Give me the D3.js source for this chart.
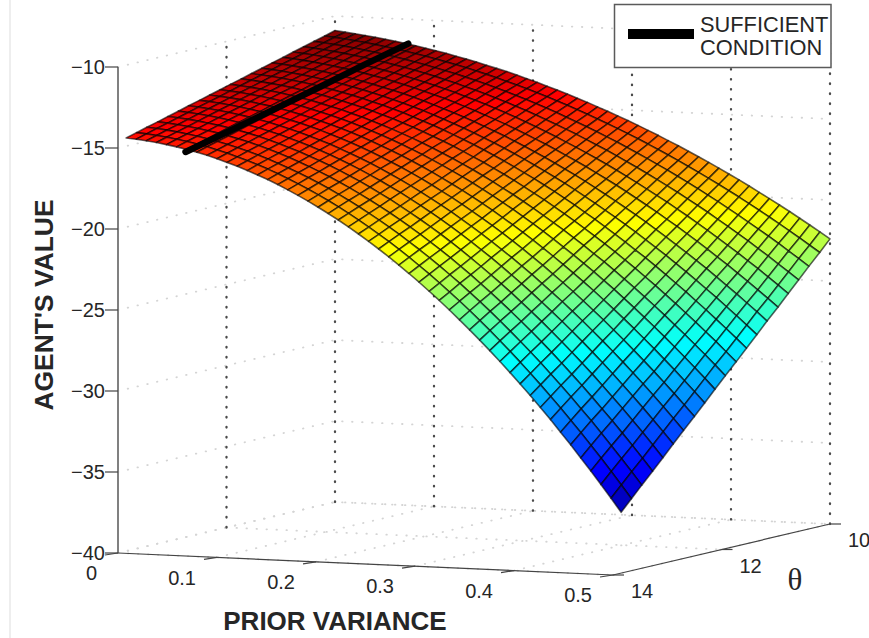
<!DOCTYPE html>
<html><head><meta charset="utf-8">
<style>html,body{margin:0;padding:0;background:#fff;overflow:hidden}svg{display:block}text{font-family:"Liberation Sans",Arial,sans-serif;fill:#262626}</style>
<script src="https://cdn.jsdelivr.net/npm/d3@7/dist/d3.min.js"></script>
</head><body><svg id="c" width="869" height="638"></svg>
<script>
const varianceTicks = [0, 0.1, 0.2, 0.3, 0.4, 0.5];
const varianceLabels = ["0", "0.1", "0.2", "0.3", "0.4", "0.5"];
const thetaTicks = [10, 12, 14];
const valueTicks = [-40, -35, -30, -25, -20, -15, -10];
const valueLabelsShown = ["−40", "−35", "−30", "−25", "−20", "−15", "−10"];
const thetaValues = [10,10.19,10.39,10.58,10.77,10.96,11.16,11.35,11.54,11.73,11.93,12.12,12.31,12.5,12.7,12.89,13.08,13.27,13.47,13.66,13.85];
const varianceValues = [0,0.0102,0.0204,0.0306,0.0408,0.051,0.0612,0.0714,0.0816,0.0918,0.102,0.1122,0.1224,0.1327,0.1429,0.1531,0.1633,0.1735,0.1837,0.1939,0.2041,0.2143,0.2245,0.2347,0.2449,0.2551,0.2653,0.2755,0.2857,0.2959,0.3061,0.3163,0.3265,0.3367,0.3469,0.3571,0.3673,0.3776,0.3878,0.398,0.4082,0.4184,0.4286,0.4388,0.449,0.4592,0.4694,0.4796,0.4898,0.5];
// magnitude of the agent's value: one line per prior variance, one entry per theta
const valueMagnitude = [
[10.90,11.08,11.26,11.44,11.62,11.80,11.98,12.16,12.34,12.52,12.70,12.88,13.06,13.24,13.42,13.60,13.78,13.96,14.14,14.32,14.50],
[10.97,11.14,11.32,11.50,11.68,11.86,12.04,12.22,12.40,12.58,12.76,12.94,13.12,13.29,13.47,13.65,13.83,14.01,14.19,14.37,14.55],
[11.04,11.22,11.40,11.57,11.75,11.93,12.11,12.29,12.47,12.65,12.83,13.00,13.18,13.36,13.54,13.72,13.90,14.08,14.26,14.44,14.62],
[11.12,11.30,11.47,11.65,11.83,12.01,12.19,12.37,12.55,12.73,12.91,13.09,13.26,13.44,13.62,13.80,13.98,14.16,14.34,14.52,14.70],
[11.20,11.38,11.56,11.74,11.92,12.10,12.28,12.46,12.64,12.82,13.00,13.18,13.36,13.54,13.72,13.90,14.08,14.26,14.44,14.62,14.80],
[11.30,11.48,11.66,11.84,12.02,12.20,12.38,12.56,12.74,12.92,13.10,13.28,13.47,13.65,13.83,14.01,14.19,14.37,14.55,14.73,14.91],
[11.40,11.58,11.76,11.94,12.12,12.31,12.49,12.67,12.85,13.04,13.22,13.40,13.58,13.77,13.95,14.13,14.31,14.49,14.68,14.86,15.04],
[11.50,11.69,11.87,12.06,12.24,12.42,12.61,12.79,12.98,13.16,13.35,13.53,13.71,13.90,14.08,14.27,14.45,14.64,14.82,15.00,15.19],
[11.62,11.80,11.99,12.18,12.36,12.55,12.74,12.92,13.11,13.30,13.48,13.67,13.86,14.04,14.23,14.42,14.60,14.79,14.98,15.17,15.35],
[11.74,11.93,12.12,12.31,12.50,12.69,12.88,13.07,13.26,13.45,13.64,13.83,14.02,14.21,14.40,14.59,14.77,14.96,15.15,15.34,15.53],
[11.87,12.06,12.25,12.45,12.64,12.83,13.03,13.22,13.41,13.61,13.80,13.99,14.18,14.38,14.57,14.76,14.96,15.15,15.34,15.54,15.73],
[12.00,12.20,12.40,12.59,12.79,12.99,13.19,13.38,13.58,13.78,13.97,14.17,14.37,14.56,14.76,14.96,15.16,15.35,15.55,15.75,15.94],
[12.15,12.35,12.55,12.75,12.95,13.15,13.35,13.56,13.76,13.96,14.16,14.36,14.56,14.76,14.97,15.17,15.37,15.57,15.77,15.97,16.18],
[12.29,12.50,12.71,12.91,13.12,13.33,13.53,13.74,13.94,14.15,14.36,14.56,14.77,14.98,15.18,15.39,15.60,15.80,16.01,16.21,16.42],
[12.45,12.66,12.87,13.09,13.30,13.51,13.72,13.93,14.14,14.36,14.57,14.78,14.99,15.20,15.41,15.62,15.84,16.05,16.26,16.47,16.68],
[12.62,12.83,13.05,13.27,13.49,13.70,13.92,14.14,14.35,14.57,14.79,15.01,15.22,15.44,15.66,15.88,16.09,16.31,16.53,16.75,16.96],
[12.79,13.01,13.23,13.46,13.68,13.90,14.13,14.35,14.58,14.80,15.02,15.25,15.47,15.69,15.92,16.14,16.36,16.59,16.81,17.04,17.26],
[12.96,13.19,13.42,13.66,13.89,14.12,14.35,14.58,14.81,15.04,15.27,15.50,15.73,15.96,16.19,16.42,16.65,16.88,17.11,17.34,17.57],
[13.15,13.39,13.62,13.86,14.10,14.34,14.57,14.81,15.05,15.29,15.52,15.76,16.00,16.24,16.47,16.71,16.95,17.19,17.42,17.66,17.90],
[13.34,13.59,13.83,14.08,14.32,14.57,14.81,15.06,15.30,15.55,15.79,16.04,16.28,16.53,16.77,17.02,17.26,17.51,17.75,18.00,18.25],
[13.54,13.79,14.05,14.30,14.55,14.81,15.06,15.31,15.57,15.82,16.07,16.33,16.58,16.83,17.09,17.34,17.59,17.85,18.10,18.35,18.61],
[13.75,14.01,14.27,14.53,14.79,15.06,15.32,15.58,15.84,16.10,16.37,16.63,16.89,17.15,17.41,17.68,17.94,18.20,18.46,18.72,18.98],
[13.96,14.23,14.50,14.77,15.04,15.31,15.59,15.86,16.13,16.40,16.67,16.94,17.21,17.48,17.75,18.02,18.29,18.57,18.84,19.11,19.38],
[14.18,14.46,14.74,15.02,15.30,15.58,15.86,16.14,16.42,16.71,16.99,17.27,17.55,17.83,18.11,18.39,18.67,18.95,19.23,19.51,19.79],
[14.41,14.70,14.99,15.28,15.57,15.86,16.15,16.44,16.73,17.02,17.31,17.60,17.90,18.19,18.48,18.77,19.06,19.35,19.64,19.93,20.22],
[14.64,14.94,15.25,15.55,15.85,16.15,16.45,16.75,17.05,17.35,17.65,17.95,18.25,18.55,18.86,19.16,19.46,19.76,20.06,20.36,20.66],
[14.89,15.20,15.51,15.82,16.13,16.44,16.76,17.07,17.38,17.69,18.00,18.31,18.63,18.94,19.25,19.56,19.87,20.19,20.50,20.81,21.12],
[15.13,15.46,15.78,16.10,16.43,16.75,17.07,17.40,17.72,18.04,18.37,18.69,19.01,19.34,19.66,19.98,20.30,20.63,20.95,21.27,21.60],
[15.39,15.73,16.06,16.40,16.73,17.07,17.40,17.74,18.07,18.41,18.74,19.08,19.41,19.75,20.08,20.42,20.75,21.09,21.42,21.76,22.09],
[15.65,16.00,16.35,16.70,17.04,17.39,17.74,18.09,18.43,18.78,19.13,19.47,19.82,20.17,20.52,20.86,21.21,21.56,21.91,22.25,22.60],
[15.92,16.28,16.64,17.00,17.36,17.72,18.08,18.44,18.80,19.16,19.53,19.89,20.25,20.61,20.97,21.33,21.69,22.05,22.41,22.77,23.13],
[16.20,16.57,16.95,17.32,17.69,18.07,18.44,18.81,19.19,19.56,19.94,20.31,20.68,21.06,21.43,21.80,22.18,22.55,22.92,23.30,23.67],
[16.48,16.87,17.26,17.65,18.03,18.42,18.81,19.20,19.58,19.97,20.36,20.74,21.13,21.52,21.91,22.29,22.68,23.07,23.46,23.84,24.23],
[16.78,17.18,17.58,17.98,18.38,18.78,19.19,19.59,19.99,20.39,20.79,21.19,21.59,22.00,22.40,22.80,23.20,23.60,24.00,24.40,24.81],
[17.07,17.49,17.91,18.32,18.74,19.15,19.57,19.99,20.40,20.82,21.24,21.65,22.07,22.48,22.90,23.32,23.73,24.15,24.56,24.98,25.40],
[17.38,17.81,18.24,18.67,19.11,19.54,19.97,20.40,20.83,21.26,21.69,22.12,22.56,22.99,23.42,23.85,24.28,24.71,25.14,25.57,26.01],
[17.69,18.14,18.59,19.03,19.48,19.93,20.37,20.82,21.27,21.71,22.16,22.61,23.06,23.50,23.95,24.40,24.84,25.29,25.74,26.18,26.63],
[18.01,18.48,18.94,19.40,19.86,20.33,20.79,21.25,21.72,22.18,22.64,23.10,23.57,24.03,24.49,24.96,25.42,25.88,26.35,26.81,27.27],
[18.34,18.82,19.30,19.78,20.26,20.74,21.22,21.70,22.18,22.65,23.13,23.61,24.09,24.57,25.05,25.53,26.01,26.49,26.97,27.45,27.93],
[18.67,19.17,19.67,20.16,20.66,21.15,21.65,22.15,22.64,23.14,23.64,24.13,24.63,25.13,25.62,26.12,26.62,27.11,27.61,28.11,28.60],
[19.01,19.53,20.04,20.55,21.07,21.58,22.10,22.61,23.12,23.64,24.15,24.67,25.18,25.69,26.21,26.72,27.24,27.75,28.27,28.78,29.29],
[19.36,19.89,20.43,20.96,21.49,22.02,22.55,23.09,23.62,24.15,24.68,25.21,25.74,26.28,26.81,27.34,27.87,28.41,28.94,29.47,30.00],
[19.72,20.27,20.82,21.37,21.92,22.47,23.02,23.57,24.12,24.67,25.22,25.77,26.32,26.87,27.42,27.97,28.52,29.07,29.62,30.17,30.72],
[20.08,20.65,21.22,21.79,22.36,22.93,23.49,24.06,24.63,25.20,25.77,26.34,26.91,27.48,28.05,28.62,29.19,29.76,30.33,30.90,31.47],
[20.45,21.04,21.63,22.21,22.80,23.39,23.98,24.57,25.16,25.75,26.34,26.92,27.51,28.10,28.69,29.28,29.87,30.46,31.04,31.63,32.22],
[20.82,21.43,22.04,22.65,23.26,23.87,24.48,25.08,25.69,26.30,26.91,27.52,28.13,28.74,29.34,29.95,30.56,31.17,31.78,32.39,33.00],
[21.21,21.84,22.46,23.09,23.72,24.35,24.98,25.61,26.24,26.87,27.50,28.12,28.75,29.38,30.01,30.64,31.27,31.90,32.53,33.15,33.78],
[21.60,22.25,22.90,23.55,24.20,24.85,25.50,26.14,26.79,27.44,28.09,28.74,29.39,30.04,30.69,31.34,31.99,32.64,33.29,33.94,34.59],
[22.00,22.67,23.34,24.01,24.68,25.35,26.02,26.69,27.36,28.03,28.70,29.37,30.05,30.72,31.39,32.06,32.73,33.40,34.07,34.74,35.41],
[22.40,23.09,23.79,24.48,25.17,25.86,26.56,27.25,27.94,28.63,29.33,30.02,30.71,31.40,32.10,32.79,33.48,34.17,34.87,35.56,36.25]
];
const conditionTheta = [10, 10.77, 11.54, 12.31, 13.08, 13.85];
const conditionVariance = [0.074, 0.072, 0.07, 0.067, 0.064, 0.06];
const conditionValue = [-11.5, -12.2, -12.95, -13.7, -14.45, -15.2];
const legendLines = ["SUFFICIENT", "CONDITION"];
const jetStops = [0, 0.125, 0.375, 0.625, 0.875, 1];
const jetColors = ["#000080", "#0000ff", "#00ffff", "#ffff00", "#ff0000", "#800000"];

const svg = d3.select("#c");
const varX = d3.scaleLinear().domain([0, 0.5]).range([0, 495]);
const varY = d3.scaleLinear().domain([0, 0.5]).range([0, 22]);
const thX = d3.scaleLinear().domain([14, 10]).range([118, 335]);
const thY = d3.scaleLinear().domain([14, 10]).range([553, 502]);
const valH = d3.scaleLinear().domain([-40, -10]).range([0, -486]);
const project = (v, t, z) => [thX(t) + varX(v), thY(t) + varY(v) + valH(z)];
const colorT = d3.scaleLinear().domain([-37.2, -10.9]).range([0, 1]);
const jet = d3.scaleLinear().domain(jetStops).range(jetColors).clamp(true);
const line = d3.line();

svg.append("line").attr("x1", 10).attr("x2", 10).attr("y1", 0).attr("y2", 638).attr("stroke", "#e8e8e8").attr("stroke-width", 1.5);

const grid = svg.append("g").attr("fill", "none").attr("stroke-linecap", "round");
const light = (pts) => grid.append("path").attr("d", line(pts)).attr("stroke", "#d4d4d4").attr("stroke-width", 1.8).attr("stroke-dasharray", "0.5 9.5");
const dark = (pts) => grid.append("path").attr("d", line(pts)).attr("stroke", "#4a4a4a").attr("stroke-width", 2.3).attr("stroke-dasharray", "0.5 9.5");
const zMin = -40, zMax = -10;
valueTicks.forEach(z => light([project(0, 14, z), project(0, 10, z), project(0.5, 10, z)]));
varianceTicks.forEach(v => light([project(v, 14, zMin), project(v, 10, zMin)]));
thetaTicks.forEach(t => light([project(0, t, zMin), project(0.5, t, zMin)]));
thetaTicks.filter(t => t < 14).forEach(t => dark([project(0, t, zMin), project(0, t, zMax)]));
varianceTicks.filter(v => v > 0).forEach(v => dark([project(v, 10, zMin), project(v, 10, zMax)]));

// axes
const axes = svg.append("g").attr("fill", "none");
axes.append("path").attr("d", line([project(0, 14, zMin), project(0, 14, zMax)])).attr("stroke", "#808080").attr("stroke-width", 2);
axes.append("path").attr("d", line([project(0, 14, zMin), project(0.5, 14, zMin), project(0.5, 10, zMin)])).attr("stroke", "#444").attr("stroke-width", 1.2);
axes.selectAll(".zt").data(valueTicks).join("path").attr("class", "zt")
  .attr("d", z => { const p = project(0, 14, z); return line([[p[0] - 13, p[1]], p]); }).attr("stroke", "#444").attr("stroke-width", 1.2);
axes.selectAll(".xt").data(varianceTicks).join("path").attr("class", "xt")
  .attr("d", v => { const p = project(v, 14, zMin); return line([[p[0] - 13, p[1] + 2], p]); }).attr("stroke", "#444").attr("stroke-width", 1.2);
axes.selectAll(".tt").data(thetaTicks).join("path").attr("class", "tt")
  .attr("d", t => { const p = project(0.5, t, zMin); return line([p, [p[0] + 11, p[1]]]); }).attr("stroke", "#444").attr("stroke-width", 1.2);

// surface
const cells = [];
thetaValues.slice(0, -1).forEach((t, i) => varianceValues.slice(0, -1).forEach((v, j) => cells.push({ i, j })));
const pt = (j, i) => project(varianceValues[j], thetaValues[i], -valueMagnitude[j][i]);
const defs = svg.append("defs");
defs.append("filter").attr("id", "soft").attr("x", "-2%").attr("y", "-2%").attr("width", "104%").attr("height", "104%")
  .append("feGaussianBlur").attr("stdDeviation", 0.5);
svg.append("g").attr("filter", "url(#soft)").selectAll("path").data(cells).join("path")
  .attr("d", c => line([pt(c.j, c.i), pt(c.j + 1, c.i), pt(c.j + 1, c.i + 1), pt(c.j, c.i + 1)]) + "Z")
  .attr("fill", c => jet(colorT(-(valueMagnitude[c.j][c.i] + valueMagnitude[c.j + 1][c.i] + valueMagnitude[c.j + 1][c.i + 1] + valueMagnitude[c.j][c.i + 1]) / 4)))
  .attr("stroke", "#000").attr("stroke-opacity", 0.62).attr("stroke-width", 1.6).attr("stroke-linejoin", "round");

// sufficient condition
svg.append("path").attr("d", line(conditionTheta.map((t, i) => project(conditionVariance[i], t, conditionValue[i]))))
  .attr("fill", "none").attr("stroke", "#000").attr("stroke-width", 6.5).attr("stroke-linecap", "round");

// tick labels
const labels = svg.append("g").style("font-size", "20px");
labels.selectAll(".zl").data(valueTicks).join("text").attr("class", "zl")
  .attr("x", z => project(0, 14, z)[0] - 13).attr("y", z => project(0, 14, z)[1]).attr("dy", "0.36em")
  .attr("text-anchor", "end").text((z, i) => valueLabelsShown[i]);
labels.selectAll(".xl").data(varianceTicks).join("text").attr("class", "xl")
  .attr("x", v => project(v, 14, zMin)[0] - 21).attr("y", v => project(v, 14, zMin)[1] + 20).attr("dy", "0.36em")
  .attr("text-anchor", "end").text((v, i) => varianceLabels[i]);
labels.selectAll(".tl").data(thetaTicks).join("text").attr("class", "tl")
  .attr("x", t => project(0.5, t, zMin)[0] + 29).attr("y", t => project(0.5, t, zMin)[1] + 16).attr("dy", "0.36em")
  .attr("text-anchor", "middle").text(t => t);

svg.append("text").attr("x", 335).attr("y", 621).attr("dy", "0.36em").attr("text-anchor", "middle")
  .style("font-size", "26px").style("font-weight", "bold").text("PRIOR VARIANCE");
svg.append("text").attr("transform", "translate(43,305) rotate(-90)").attr("dy", "0.36em").attr("text-anchor", "middle")
  .style("font-size", "26.4px").style("font-weight", "bold").text("AGENT'S VALUE");
svg.append("text").attr("x", 795).attr("y", 579).attr("dy", "0.34em").attr("text-anchor", "middle")
  .style("font-family", "'Liberation Serif',serif").style("font-size", "31px").text("θ");

// legend
svg.append("rect").attr("x", 614.5).attr("y", 4.5).attr("width", 216.5).attr("height", 63).attr("fill", "#fff").attr("stroke", "#5a5a5a").attr("stroke-width", 1.5);
svg.append("line").attr("x1", 628).attr("x2", 694).attr("y1", 34).attr("y2", 34).attr("stroke", "#000").attr("stroke-width", 10);
svg.selectAll(".lg").data(legendLines).join("text").attr("class", "lg")
  .attr("x", 700).attr("y", (d, i) => 24 + i * 23).attr("dy", "0.36em").style("font-size", "21.8px").text(d => d);
</script></body></html>
